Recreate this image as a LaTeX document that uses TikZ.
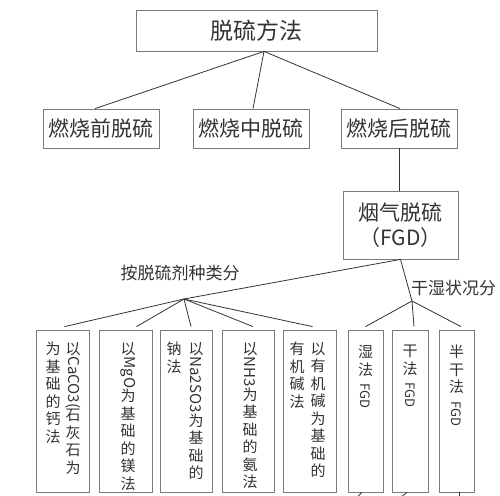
\documentclass[tikz,border=0pt]{standalone}
\usepackage{fontspec}
\usepackage{graphicx}
\usepackage{tikz}
\usetikzlibrary{positioning}
\newfontfamily\cjk{Noto Sans CJK SC}
\definecolor{linegray}{HTML}{333333}
\definecolor{boxgray}{HTML}{7A7A7A}
\newcommand{\rlat}[1]{\rotatebox[origin=c]{-90}{#1}}

\begin{document}
\begin{tikzpicture}[x=1pt, y=-1pt, font=\cjk, text=linegray,
    box/.style={draw=boxgray, line width=0.8pt, inner sep=0pt},
    lvl/.style={box, minimum width=116, minimum height=39, font=\cjk\fontsize{21}{24}\selectfont},
    leaf/.style={box, minimum height=162},
    vcol/.style={anchor=north, align=center, inner sep=0pt, font=\cjk\fontsize{15}{17.5}\selectfont},
    lbl/.style={inner sep=0pt, font=\cjk\fontsize{17}{19}\selectfont},
    conn/.style={draw=linegray, line width=0.8pt}]
    \useasboundingbox (0,0) rectangle (500,495);
    % Draw the upper levels
    \node[box, minimum width=241, minimum height=41, font=\cjk\fontsize{23}{26}\selectfont] (root) at (256.5,30.5) {脱硫方法};
    \node[lvl] (pre) at (101,128.5) {燃烧前脱硫};
    \node[lvl] (mid) at (251,128.5) {燃烧中脱硫};
    \node[lvl] (post) at (399,128.5) {燃烧后脱硫};
    \node[box, minimum width=115, minimum height=68, align=center, font=\cjk\fontsize{21}{25}\selectfont] (fgd) at (400.5,225) {烟气脱硫\\（FGD）};
    \draw[conn] ([xshift=-6]pre.north) -- ([xshift=7.5]root.south) -- ([xshift=2]mid.north);
    \draw[conn] ([xshift=7.5]root.south) -- ([xshift=1]post.north);
    \draw[conn] (post.south) -- (post.south |- fgd.north);
    % Split points and their labels
    \coordinate (j1) at (184,299);
    \coordinate (j2) at (412,301);
    \node[lbl] (bylbl) at (180,273) {按脱硫剂种类分};
    \node[lbl] (wetlbl) at (453.5,288) {干湿状况分};
    \draw[conn] (j1) -- (fgd.south) -- (j2);
    % Draw the bottom boxes
    \foreach \n/\cx/\w in {b1/62.5/53, b2/125.5/53, b3/186/52, b4/248/52, b5/309.5/53, b6/365.5/35, b7/410/36, b8/456.5/35}{
        \node[leaf, minimum width=\w] (\n) at (\cx,411) {};
    }
    \foreach \n/\dx in {b1/2, b2/11, b3/5, b4/5, b5/3}{
        \draw[conn] (j1) -- ([xshift=\dx, yshift=3]\n.north);
    }
    \foreach \n/\dx in {b6/0, b7/4, b8/4.5}{
        \draw[conn] (j2) -- ([xshift=\dx, yshift=3]\n.north);
    }
    % Stubs below the cut
    \coordinate (s6) at (357,497);
    \coordinate (s7) at (401,497);
    \coordinate (s8) at (459,497);
    \draw[conn] ([xshift=-3.5]b6.south) -- (s6);
    \draw[conn] ([xshift=-3]b7.south) -- (s7);
    \draw[conn] ([xshift=2.5]b8.south) -- (s8);
    % Vertical texts, right column first
    \node[vcol] (b1r) at (73,342) {以\\\rlat{CaCO3(}\\石\\灰\\石\\为};
    \node[vcol] (b1l) at (53,342) {为\\基\\础\\的\\钙\\法};
    \node[vcol] (b2t) at (128,342) {以\\\rlat{MgO}\\为\\基\\础\\的\\镁\\法};
    \node[vcol] (b3r) at (196,342) {以\\\rlat{Na2SO3}\\为\\基\\础\\的};
    \node[vcol] (b3l) at (174,342) {钠\\法};
    \node[vcol] (b4t) at (250,342) {以\\\rlat{NH3}\\为\\基\\础\\的\\氨\\法};
    \node[vcol] (b5r) at (318,342) {以\\有\\机\\碱\\为\\基\\础\\的};
    \node[vcol] (b5l) at (297,342) {有\\机\\碱\\法};
    \node[vcol] (b6t) at (365.5,345) {湿\\法\\[6pt]\rlat{\fontsize{13}{15}\selectfont FGD}};
    \node[vcol] (b7t) at (410,345) {干\\法\\[6pt]\rlat{\fontsize{13}{15}\selectfont FGD}};
    \node[vcol] (b8t) at (456.5,345) {半\\干\\法\\[6pt]\rlat{\fontsize{13}{15}\selectfont FGD}};
\end{tikzpicture}
\end{document}
